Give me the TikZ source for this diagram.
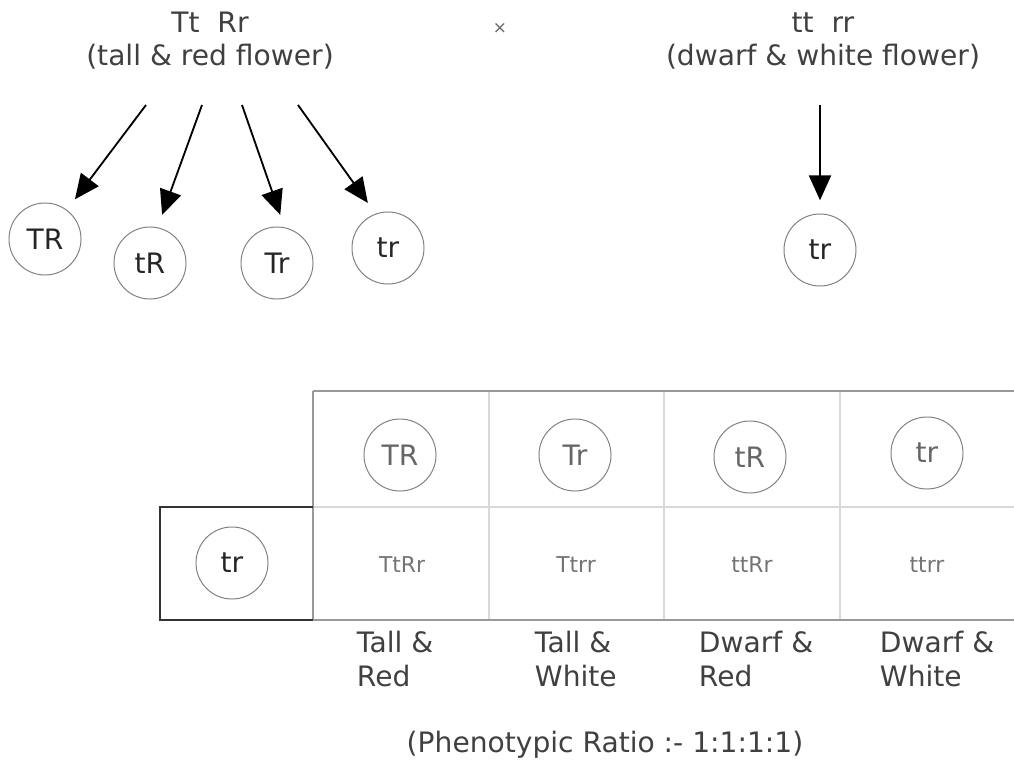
\documentclass[tikz,border=0pt]{standalone}
\usepackage{fontspec}
\setmainfont{DejaVu Sans}
\usetikzlibrary{arrows.meta}

\tikzstyle{gamete}=[circle,draw=black!50,line width=0.7pt,minimum size=1.8cm,inner sep=0pt,text=black!85]
\tikzstyle{parent}=[align=center,text=black!75,font=\fontsize{20}{23.5}\selectfont]
\tikzstyle{split} = [draw,line width=1.3pt,shorten >=0.33cm,-{Triangle[length=0.62cm,width=0.55cm]}]
\tikzstyle{outer line} = [draw=black!40,line width=1.8pt]
\tikzstyle{inner line} = [draw=black!15,line width=1.3pt]
\tikzstyle{cell} = [text=black!55,font=\fontsize{15.5}{18}\selectfont]
\tikzstyle{pheno} = [align=left,anchor=west,text=black!75,font=\fontsize{20}{24}\selectfont]

\begin{document}
\begin{tikzpicture}[x=0.025cm,y=-0.025cm,font=\fontsize{20}{24}\selectfont]
	\useasboundingbox (0,0) rectangle (1014,775);
			% Parents
			\node[parent] (p1) at (210,41) {Tt~~Rr\\(tall \& red flower)};
			\node[text=black!60,font=\fontsize{12}{14}\selectfont] (x) at (500,28) {×};
			\node[parent] (p2) at (823,41) {tt~~rr\\(dwarf \& white flower)};
			\coordinate (s1) at (146,105);
			\coordinate (s2) at (202,105);
			\coordinate (s3) at (242,105);
			\coordinate (s4) at (298,105);
			\coordinate (s5) at (820,105);
			% Gametes
			\node[gamete] (g1) at (45,239) {TR};
			\node[gamete] (g2) at (150,263) {tR};
			\node[gamete] (g3) at (277,263) {Tr};
			\node[gamete] (g4) at (388,248) {tr};
			\node[gamete] (g5) at (820,250) {tr};
	   		 % Arrows down to the gametes
	   		 \foreach \source/ \dest/ \ang in {s1/g1/53, s2/g2/78, s3/g3/78, s4/g4/110, s5/g5/90}
			 \path[split] (\source) -- (\dest.\ang);
			% Checkerboard
			\path[inner line] (313,507) -- (1014,507);
			\foreach \x in {489,664,840}
			 \path[inner line] (\x,391) -- (\x,620);
			\path[outer line] (313,391) -- (1014,391);
			\path[outer line] (313,391) -- (313,620);
			\path[outer line] (160,620) -- (1014,620);
			\draw[black!80,line width=1.3pt] (313,507) -- (160,507) -- (160,620) -- (313,620);
			\node[gamete] (h1) at (400,455) {\color{black!60}TR};
			\node[gamete] (h2) at (575,455) {\color{black!60}Tr};
			\node[gamete] (h3) at (750,457) {\color{black!60}tR};
			\node[gamete] (h4) at (927,453) {\color{black!60}tr};
			\node[gamete] (v1) at (232,563) {tr};
			\node[cell] (c1) at (402,565) {TtRr};
			\node[cell] (c2) at (576,565) {Ttrr};
			\node[cell] (c3) at (752,565) {ttRr};
			\node[cell] (c4) at (927,565) {ttrr};
			% Phenotypes
			\node[pheno] (f1) at (352,659) {Tall \&\\Red};
			\node[pheno] (f2) at (530,659) {Tall \&\\White};
			\node[pheno] (f3) at (694,659) {Dwarf \&\\Red};
			\node[pheno] (f4) at (875,659) {Dwarf \&\\White};
			\node[text=black!75] (ratio) at (605,745) {(Phenotypic Ratio :- 1:1:1:1)};
		\end{tikzpicture}
\end{document}
